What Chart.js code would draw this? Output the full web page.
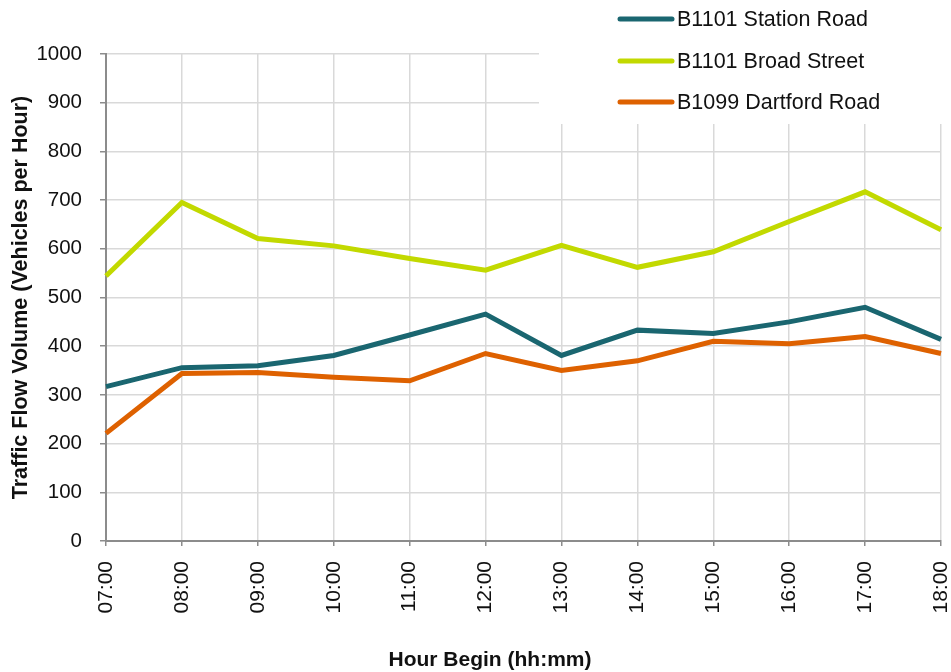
<!DOCTYPE html>
<html>
<head>
<meta charset="utf-8">
<script src="https://cdn.jsdelivr.net/npm/chart.js@4/dist/chart.umd.min.js"></script>
<style>
  html, body { margin: 0; padding: 0; background: #ffffff; }
  #wrap { width: 951px; height: 672px; position: relative; }
</style>
</head>
<body>
<div id="wrap"><canvas id="c" width="951" height="672"></canvas></div>
<script>
// Hourly traffic counts, 07:00 to 18:00
const hours = ['07:00','08:00','09:00','10:00','11:00','12:00','13:00','14:00','15:00','16:00','17:00','18:00'];
const stationRoad  = [317, 356, 360, 381, 423, 466, 381, 433, 426, 450, 480, 414];
const broadStreet  = [544, 695, 621, 606, 580, 556, 607, 562, 594, 656, 717, 639];
const dartfordRoad = [221, 344, 346, 336, 329, 385, 350, 370, 410, 405, 420, 385];
const yTicks = [0, 100, 200, 300, 400, 500, 600, 700, 800, 900, 1000];

const seriesNames  = ['B1101 Station Road', 'B1101 Broad Street', 'B1099 Dartford Road'];
const seriesColors = ['#1a6670', '#c2d900', '#de6100'];

const FONT = '"Liberation Sans", Arial, Helvetica, sans-serif';

// Legend stacked in the top-right corner on a white panel, plus the x-axis title
const cornerLegend = {
  id: 'cornerLegend',
  afterDraw(chart) {
    const ctx = chart.ctx;
    ctx.save();
    ctx.fillStyle = '#ffffff';
    ctx.fillRect(539, 0, 951 - 539, 124);
    const rows = [19, 61, 102];
    chart.data.datasets.forEach((ds, i) => {
      const y = rows[i];
      ctx.strokeStyle = ds.borderColor;
      ctx.lineWidth = 5;
      ctx.lineCap = 'round';
      ctx.beginPath();
      ctx.moveTo(620, y);
      ctx.lineTo(672, y);
      ctx.stroke();
      ctx.fillStyle = '#111111';
      ctx.font = '21.5px ' + FONT;
      ctx.textAlign = 'left';
      ctx.textBaseline = 'middle';
      ctx.fillText(ds.label, 677, y + 1);
    });
    ctx.font = 'bold 21px ' + FONT;
    ctx.fillStyle = '#111111';
    ctx.textAlign = 'center';
    ctx.textBaseline = 'middle';
    ctx.fillText('Hour Begin (hh:mm)', 490, 660);
    ctx.restore();
  }
};

const datasets = [stationRoad, broadStreet, dartfordRoad].map((vals, i) => ({
  label: seriesNames[i],
  data: vals,
  borderColor: seriesColors[i],
  backgroundColor: seriesColors[i],
  borderWidth: 5,
  pointRadius: 0,
  pointHoverRadius: 0,
  tension: 0,
  fill: false
}));

new Chart(document.getElementById('c'), {
  type: 'line',
  data: { labels: hours, datasets: datasets },
  options: {
    responsive: false,
    animation: false,
    devicePixelRatio: 1,
    layout: { padding: { top: 54, right: 10, left: 0, bottom: 0 } },
    plugins: {
      legend: { display: false },
      tooltip: { enabled: false }
    },
    scales: {
      x: {
        type: 'category',
        offset: false,
        afterFit(scale) {
          scale.height = 131;
          scale.paddingLeft = 0;
          scale.paddingRight = 0;
        },
        grid: {
          color: '#d9d9d9',
          lineWidth: 1.5,
          tickColor: '#8c8c8c',
          tickLength: 5,
          drawTicks: true
        },
        border: { color: '#8c8c8c', width: 2 },
        ticks: {
          color: '#111111',
          font: { family: FONT, size: 21 },
          minRotation: 90,
          maxRotation: 90,
          autoSkip: false,
          padding: 15
        }
      },
      y: {
        min: 0,
        max: 1000,
        afterFit(scale) { scale.width = 106; },
        afterBuildTicks(scale) { scale.ticks = yTicks.map(v => ({ value: v })); },
        grid: {
          color: '#d9d9d9',
          lineWidth: 1.5,
          tickColor: '#8c8c8c',
          tickLength: 6
        },
        border: { color: '#8c8c8c', width: 2 },
        ticks: {
          color: '#111111',
          font: { family: FONT, size: 20.5 },
          padding: 18,
          callback: (v) => String(v)
        },
        title: {
          display: true,
          text: 'Traffic Flow Volume (Vehicles per Hour)',
          color: '#111111',
          font: { family: FONT, size: 21.5, weight: 'bold' },
          padding: { top: 8, bottom: 0 }
        }
      }
    }
  },
  plugins: [cornerLegend]
});
</script>
</body>
</html>
